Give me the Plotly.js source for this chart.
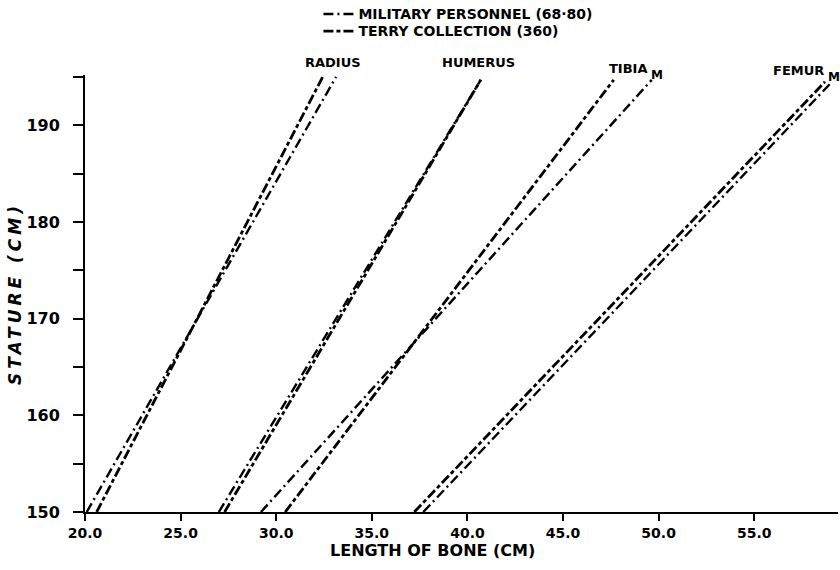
<!DOCTYPE html>
<html>
<head>
<meta charset="utf-8">
<script src="https://cdn.plot.ly/plotly-3.0.1.min.js"></script>
<style>
html,body{margin:0;padding:0;background:#fff;}
#chart{width:840px;height:570px;}
.ytitle{letter-spacing:4px;}
</style>
</head>
<body>
<div id="chart"></div>
<script>
// Bones plotted (each one is a regression line of stature on bone length)
const bones = ["RADIUS", "HUMERUS", "TIBIA", "FEMUR"];
// Stature at the lower and upper end of each line (cm)
const statureLow = [150, 150, 150, 150];
const statureHigh = [195.0, 194.7, 194.7, 194.5];
// Military personnel (68-80): bone length (cm) at the low / high end
const militaryLow = [20.09, 27.0, 29.2, 37.69];
const militaryHigh = [33.13, 40.7, 49.64, 59.07];
// Terry Collection (360): bone length (cm) at the low / high end
const terryLow = [20.61, 27.3, 30.47, 37.22];
const terryHigh = [32.43, 40.7, 47.65, 58.7];
// Axis ticks
const xTickVals = [20, 25, 30, 35, 40, 45, 50, 55];
const xTickText = ["20.0", "25.0", "30.0", "35.0", "40.0", "45.0", "50.0", "55.0"];
const yTickVals = [150, 160, 170, 180, 190];
const yTickText = ["150", "160", "170", "180", "190"];
const seriesNames = ["MILITARY PERSONNEL (68·80)", "TERRY COLLECTION (360)"];

const FONT = "DejaVu Sans, Liberation Sans, sans-serif";
const milDash = "10px,4px,2px,4px";
const terDash = "10px,3px,4px,3px";

const traces = [];
bones.forEach((b, i) => {
  traces.push({
    type: "scatter", mode: "lines",
    x: [militaryLow[i], militaryHigh[i]],
    y: [statureLow[i], statureHigh[i]],
    name: seriesNames[0], legendgroup: "mil", showlegend: i === 0, legend: "legend",
    line: {color: "#000", width: 2.4, dash: milDash},
    hoverinfo: "skip"
  });
  traces.push({
    type: "scatter", mode: "lines",
    x: [terryLow[i], terryHigh[i]],
    y: [statureLow[i], statureHigh[i]],
    name: seriesNames[1], legendgroup: "ter", showlegend: i === 0, legend: "legend2",
    line: {color: "#000", width: 2.8, dash: terDash},
    hoverinfo: "skip"
  });
});

const lab = (text, x, y, size) => ({
  text: "<b>" + text + "</b>", x: x, y: y, xref: "x", yref: "paper",
  xanchor: "center", yanchor: "middle",
  showarrow: false, font: {family: FONT, size: size || 13, color: "#000"}
});

const legFont = {family: FONT, size: 14, color: "#000", weight: "bold"};
const layout = {
  width: 840, height: 570,
  margin: {l: 85, r: 2, t: 75, b: 58, autoexpand: false},
  paper_bgcolor: "#fff", plot_bgcolor: "#fff",
  font: {family: FONT, color: "#000"},
  showlegend: true,
  legend: {
    x: 0.31, y: 1.1387, xanchor: "left", yanchor: "middle",
    bgcolor: "rgba(0,0,0,0)", borderwidth: 0, font: legFont
  },
  legend2: {
    x: 0.31, y: 1.0997, xanchor: "left", yanchor: "middle",
    bgcolor: "rgba(0,0,0,0)", borderwidth: 0, font: legFont
  },
  xaxis: {
    range: [20, 59.38], showgrid: false, zeroline: false,
    showline: true, linecolor: "#000", linewidth: 2,
    ticks: "outside", ticklen: 7, tickwidth: 2, tickcolor: "#000",
    tickvals: xTickVals, ticktext: xTickText,
    tickfont: {family: FONT, size: 14, color: "#000", weight: "bold"}
  },
  yaxis: {
    range: [150, 195.2], showgrid: false, zeroline: false,
    showline: true, linecolor: "#000", linewidth: 2,
    ticks: "outside", ticklen: 10, tickwidth: 2, tickcolor: "#000",
    tickvals: yTickVals, ticktext: yTickText,
    ticklabelstandoff: 10,
    minor: {tickvals: [155, 165, 175, 185, 195], ticks: "outside", ticklen: 10, tickwidth: 2, tickcolor: "#000"},
    tickfont: {family: FONT, size: 16, color: "#000", weight: "bold"},
    title: {text: "<b><i>STATURE (CM)</i></b>", standoff: 0,
            font: {family: FONT, size: 17, color: "#000"}}
  },
  annotations: [
    {text: "<b>LENGTH OF BONE (CM)</b>", xref: "paper", yref: "paper",
     x: 0.461, y: -0.087, xanchor: "center", yanchor: "middle", showarrow: false,
     font: {family: FONT, size: 16, color: "#000"}},
    lab(bones[0], 32.97, 1.0297),
    lab(bones[1], 40.6, 1.0275),
    lab(bones[2], 48.4, 1.016),
    lab("M", 49.92, 1.0, 12),
    lab(bones[3], 57.34, 1.0114),
    lab("M", 59.17, 0.995, 12)
  ]
};

Plotly.newPlot("chart", traces, layout, {displayModeBar: false, staticPlot: true});
</script>
</body>
</html>
